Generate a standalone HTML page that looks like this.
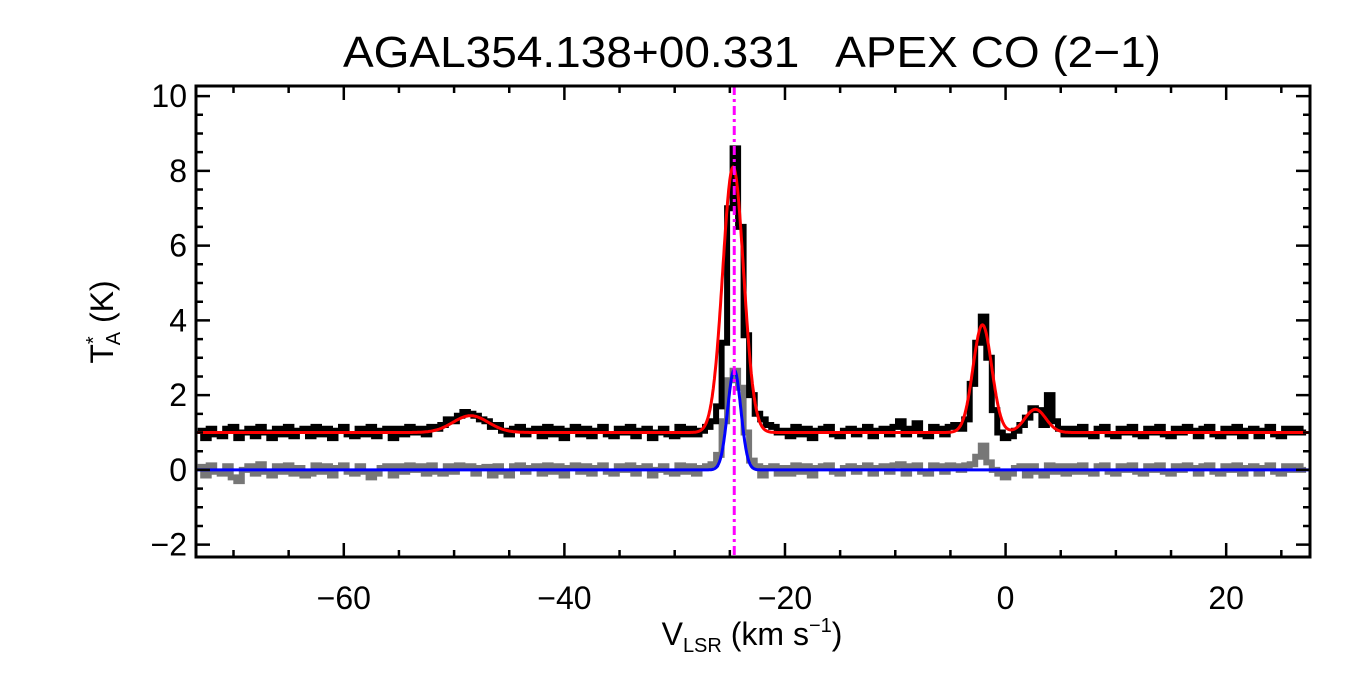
<!DOCTYPE html>
<html><head><meta charset="utf-8"><style>
body{margin:0;background:#fff}
svg{display:block;font-family:"Liberation Sans",sans-serif}
</style></head><body>
<svg id="chart" width="1350" height="675" viewBox="0 0 1350 675" xmlns="http://www.w3.org/2000/svg">
<rect width="1350" height="675" fill="#fff"/>
<text x="752" y="67" font-size="44" text-anchor="middle" xml:space="preserve" textLength="818" lengthAdjust="spacingAndGlyphs">AGAL354.138+00.331   APEX CO (2−1)</text>
<g id="plot"></g>
<text x="752" y="645" font-size="32" text-anchor="middle">V<tspan font-size="20" dy="7">LSR</tspan><tspan dy="-7"> (km s</tspan><tspan font-size="20" dy="-13">−1</tspan><tspan dy="13">)</tspan></text>
<text transform="translate(113,322) rotate(-90)" font-size="32" text-anchor="middle">T<tspan font-size="20" dy="-13">*</tspan><tspan font-size="20" dx="-9" dy="20">A</tspan><tspan dy="-7"> (K)</tspan></text>
</svg>
<script>
const v0 = -73, dv = 0.5;
const dataK = [
1.05,0.85,1.1,0.95,0.9,1.1,1.15,0.85,1.0,1.1,0.9,1.15,1.0,0.85,1.1,0.95,1.15,0.9,1.05,1.1,
0.9,1.15,0.95,1.1,0.85,1.05,1.15,0.95,0.9,1.1,0.95,1.15,0.9,1.05,1.1,0.85,1.1,0.95,1.15,1.0,
1.1,0.95,1.15,1.1,1.2,1.35,1.3,1.45,1.55,1.5,1.45,1.35,1.3,1.15,1.2,1.05,0.95,1.1,1.15,0.95,
1.05,1.1,0.9,1.15,0.95,1.1,0.85,1.05,1.15,0.95,1.1,0.9,1.05,1.15,0.95,0.9,1.1,1.0,1.15,0.9,
1.05,1.1,0.85,1.0,1.1,0.95,0.9,1.15,0.95,1.1,0.95,1.05,1.15,1.3,1.7,3.4,7.0,8.6,6.5,3.6,
2.0,1.5,1.35,1.2,1.15,1.0,1.05,0.9,1.15,0.95,1.1,0.85,1.05,1.1,1.15,0.95,0.9,1.05,1.1,0.95,
1.05,1.15,0.9,1.05,1.1,0.95,1.15,1.3,0.95,1.1,1.25,0.95,0.9,1.15,1.1,0.95,1.15,1.2,1.1,1.35,
2.3,3.4,4.1,3.0,1.6,1.0,0.85,0.9,1.05,1.2,1.4,1.65,1.6,1.2,2.0,1.3,1.1,0.95,1.1,0.95,
1.15,0.95,0.9,1.1,1.15,0.95,0.9,1.1,1.0,1.15,0.95,0.9,1.1,1.0,1.15,0.95,0.9,1.1,1.0,1.15,
1.05,0.9,1.1,1.15,0.95,0.9,1.1,1.0,1.15,0.9,1.05,1.1,0.9,1.05,1.15,0.95,0.9,1.1,1.0,1.1,1.0];
const residK = [
0.08,-0.15,0.12,-0.05,-0.1,0.1,-0.2,-0.3,0.0,0.1,-0.1,0.15,-0.05,-0.15,0.1,-0.05,0.12,-0.1,0.05,-0.15,
-0.1,0.12,-0.05,0.1,-0.15,0.05,0.12,-0.05,-0.1,0.1,-0.05,-0.2,-0.1,0.05,0.1,-0.15,0.1,-0.05,0.12,0.0,
0.1,-0.1,0.12,-0.05,-0.1,0.1,-0.05,0.12,0.05,0.1,-0.1,0.05,0.08,-0.15,0.1,-0.05,-0.15,0.1,0.12,-0.05,
0.05,0.1,-0.1,0.12,-0.05,0.1,-0.15,0.05,0.12,-0.05,0.1,-0.1,0.05,0.12,-0.05,-0.1,0.1,0.0,0.12,-0.1,
0.05,0.1,-0.15,0.0,0.1,-0.05,-0.1,0.12,-0.05,0.1,-0.1,0.05,0.1,0.15,0.4,1.3,2.4,2.65,2.2,1.0,
0.25,0.1,-0.15,0.05,0.1,-0.1,0.05,-0.1,0.12,-0.05,0.1,-0.15,0.05,0.1,0.12,-0.05,-0.1,0.05,0.1,-0.05,
0.05,0.12,-0.1,0.05,0.1,-0.05,0.12,0.15,-0.1,0.1,0.12,-0.05,-0.1,0.12,0.1,-0.05,0.12,0.1,0.0,0.12,
0.15,0.35,0.65,0.2,0.0,-0.1,-0.2,-0.1,0.05,0.1,-0.15,0.1,-0.05,-0.15,0.12,-0.05,0.1,-0.1,0.1,-0.05,
0.12,-0.05,-0.1,0.1,0.12,-0.05,-0.1,0.1,0.0,0.12,-0.05,-0.1,0.1,0.0,0.12,-0.05,-0.1,0.1,0.0,0.12,
0.05,-0.1,0.1,0.12,-0.05,-0.1,0.1,0.0,0.12,-0.1,0.05,0.1,-0.1,0.05,0.12,-0.05,-0.1,0.1,0.0,0.1,0.0];
const fitBaseline = 1.0;
const fitCenters = [-48.5, -24.7, -2.1, 2.7];
const fitAmps = [0.45, 7.1, 2.88, 0.62];
const fitSigmas = [1.6, 0.95, 0.85, 0.95];
const blueCenter = [-24.6], blueAmp = [2.67], blueSigma = [0.6];
const vlsr = -24.6;
const xTicks = [-60,-40,-20,0,20];
const yTicks = [-2,0,2,4,6,8,10];

const L=196,R=1310,T=86,B=557, xmin=-73.4, xmax=27.6, ymin=-2.33, ymax=10.27;
const X=v=>L+(v-xmin)/(xmax-xmin)*(R-L);
const Y=t=>B-(t-ymin)/(ymax-ymin)*(B-T);
const NS="http://www.w3.org/2000/svg";
const plot=document.getElementById('plot');
function mk(tag,attrs){const e=document.createElementNS(NS,tag);for(const k in attrs)e.setAttribute(k,attrs[k]);plot.appendChild(e);return e;}
const clip=mk('clipPath',{id:'pc'});
const cr=document.createElementNS(NS,'rect');cr.setAttribute('x',L);cr.setAttribute('y',T);cr.setAttribute('width',R-L);cr.setAttribute('height',B-T);clip.appendChild(cr);

function stepPath(arr){let d='';arr.forEach((t,i)=>{const v=v0+i*dv;const x1=X(v-dv/2),x2=X(v+dv/2),y=Y(t);d+=(i?'L':'M')+x1.toFixed(1)+','+y.toFixed(1)+'L'+x2.toFixed(1)+','+y.toFixed(1);});return d;}
function gauss(v,c,a,s){let t=0;for(let k=0;k<c.length;k++)t+=a[k]*Math.exp(-0.5*((v-c[k])/s[k])**2);return t;}
function curve(base,c,a,s){let d='';for(let v=xmin;v<=xmax;v+=0.05){d+=(d?'L':'M')+X(v).toFixed(1)+','+Y(base+gauss(v,c,a,s)).toFixed(1);}return d;}

const g1=mk('path',{d:stepPath(residK),fill:'none',stroke:'#777',"stroke-width":6,"clip-path":'url(#pc)'});


const g2=mk('path',{d:stepPath(dataK),fill:'none',stroke:'#000',"stroke-width":6,"clip-path":'url(#pc)'});


const g3=mk('path',{d:curve(fitBaseline,fitCenters,fitAmps,fitSigmas),fill:'none',stroke:'#f00',"stroke-width":3,"clip-path":'url(#pc)'});


const g4=mk('path',{d:curve(0,blueCenter,blueAmp,blueSigma),fill:'none',stroke:'#00f',"stroke-width":3,"clip-path":'url(#pc)'});


const g5=mk('line',{x1:X(vlsr),x2:X(vlsr),y1:T,y2:B,stroke:'#f0f',"stroke-width":3,"stroke-dasharray":'9,4,3,4'});



const fr=mk('rect',{x:L,y:T,width:R-L,height:B-T,fill:'none',stroke:'#000',"stroke-width":3});


let td='';
for(let v=-70;v<=25;v+=5){const maj=v%20===0;const l=maj?14:7;const x=X(v);td+=`M${x},${B}v${-l}M${x},${T}v${l}`;}
for(let t=-2;t<=10;t+=0.5){const maj=Math.abs(t%2)<1e-9;const l=maj?14:7;const y=Y(t);td+=`M${L},${y}h${l}M${R},${y}h${-l}`;}
const tk=mk('path',{d:td,stroke:'#000',"stroke-width":2.5,fill:'none'});


xTicks.forEach(v=>{const t=mk('text',{x:X(v),y:609,"font-size":32,"text-anchor":'middle'});t.textContent=v<0?'−'+(-v):String(v);

});
yTicks.forEach(v=>{const t=mk('text',{x:187,y:Y(v)+11,"font-size":32,"text-anchor":'end'});t.textContent=v<0?'−'+(-v):String(v);

});
</script>
</body></html>
